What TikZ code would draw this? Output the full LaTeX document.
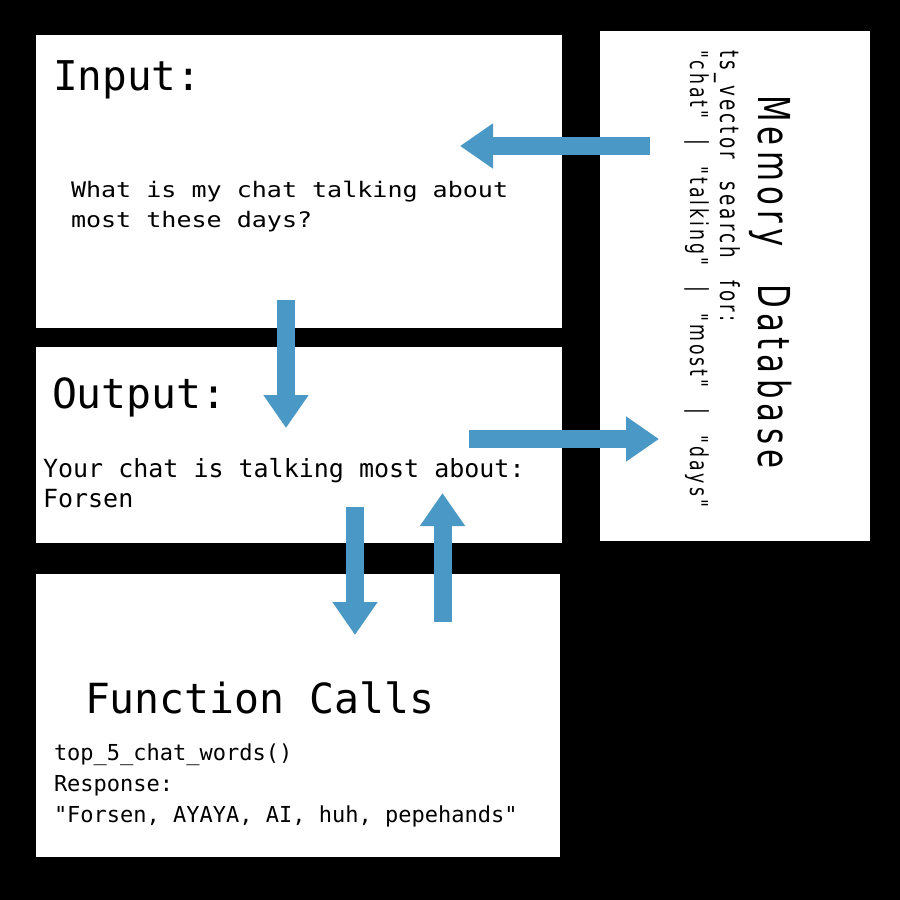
\documentclass[tikz,border=0pt]{standalone}
\usepackage{fontspec}
\usetikzlibrary{arrows.meta}
\newfontfamily\monofont{DejaVu Sans Mono}
\newfontfamily\monowide[FakeStretch=1.17]{DejaVu Sans Mono}
\newfontfamily\memfont[FakeStretch=0.7,LetterSpace=12,WordSpace=2.5]{DejaVu Sans}
\definecolor{arrowblue}{RGB}{73,152,197}
\begin{document}
\begin{tikzpicture}[x=1pt,y=-1pt,
  box/.style={fill=white,draw=none,inner sep=0pt,outer sep=0pt,anchor=north west},
  txt/.style={anchor=base west,inner sep=0pt,outer sep=0pt,text=black},
  vtxt/.style={txt,rotate=-90},
  blockarrow/.style={draw=arrowblue,line width=18pt,-{Triangle[width=43pt,length=33pt]}}]
\fill[black] (0,0) rectangle (900,900);
\useasboundingbox (0,0) rectangle (900,900);

% boxes
\node (input)  [box,minimum width=526pt,minimum height=293pt] at (36,35) {};
\node (output) [box,minimum width=526pt,minimum height=196pt] at (36,347) {};
\node (func)   [box,minimum width=524pt,minimum height=283pt] at (36,574) {};
\node (memory) [box,minimum width=270pt,minimum height=510pt] at (600,31) {};

% input texts
\node (inTitle) [txt,font=\monofont\fontsize{41}{48}\selectfont] at (53,90) {Input:};
\node (inL1) [txt,font=\monowide\fontsize{21.4}{30}\selectfont] at (71,197) {What is my chat talking about};
\node (inL2) [txt,font=\monowide\fontsize{21.4}{30}\selectfont] at (71,227) {most these days?};

% output texts
\node (outTitle) [txt,font=\monofont\fontsize{41.5}{48}\selectfont] at (52,408) {Output:};
\node (outL1) [txt,font=\monofont\fontsize{25}{30}\selectfont] at (43,477) {Your chat is talking most about:};
\node (outL2) [txt,font=\monofont\fontsize{25}{30}\selectfont] at (43,507) {Forsen};

% function texts
\node (fnTitle) [txt,font=\monofont\fontsize{41.5}{48}\selectfont] at (85,713) {Function Calls};
\node (fnL1) [txt,font=\monofont\fontsize{22}{30}\selectfont] at (54,760) {top\_5\_chat\_words()};
\node (fnL2) [txt,font=\monofont\fontsize{22}{30}\selectfont] at (54,791) {Response:};
\node (fnL3) [txt,font=\monofont\fontsize{22}{30}\selectfont] at (54,822) {"Forsen, AYAYA, AI, huh, pepehands"};

% memory texts (rotated)
\node (memTitle) [vtxt,font=\memfont\fontsize{44}{50}\selectfont] at (758,95) {Memory Database};
\node (memL1) [vtxt,font=\memfont\fontsize{26.2}{30}\selectfont] at (720,50) {ts\_vector search for:};
\node (memL2) [vtxt,font=\memfont\fontsize{24.7}{30}\selectfont] at (690,50) {"chat" | "talking" | "most" | "days"};

% arrows
\coordinate (a1s) at (650,146); \coordinate (a1e) at (460,146);
\coordinate (a2s) at (286,300); \coordinate (a2e) at (286,428);
\coordinate (a3s) at (469,439); \coordinate (a3e) at (659,439);
\coordinate (a4s) at (355,507); \coordinate (a4e) at (355,635);
\coordinate (a5s) at (442.5,622); \coordinate (a5e) at (442.5,493);
\draw[blockarrow] (a1s) -- (a1e);
\draw[blockarrow] (a2s) -- (a2e);
\draw[blockarrow] (a3s) -- (a3e);
\draw[blockarrow] (a4s) -- (a4e);
\draw[blockarrow] (a5s) -- (a5e);
\end{tikzpicture}
\end{document}
